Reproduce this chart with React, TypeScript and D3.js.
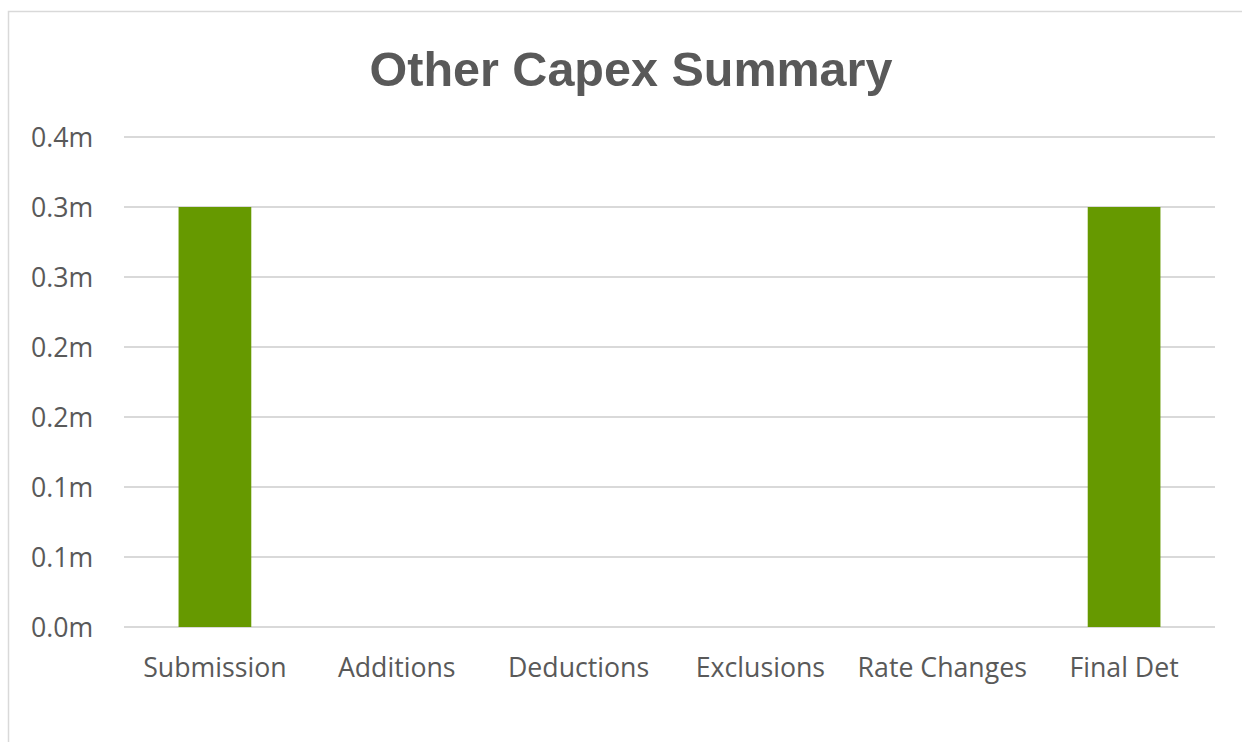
import React from "react";
import * as d3 from "d3";

const categories = ["Submission", "Additions", "Deductions", "Exclusions", "Rate Changes", "Final Det"];
const values = [0.3, 0, 0, 0, 0, 0.3];
const yTicks = [0, 0.05, 0.1, 0.15, 0.2, 0.25, 0.3, 0.35];
const title = "Other Capex Summary";

export default function App() {
  const W = 1242, H = 742;
  const left = 124, right = 1215, top = 137, bottom = 627;
  const x = d3.scaleBand<string>().domain(categories).range([left, right]).padding(0);
  const y = d3.scaleLinear().domain([0, 0.35]).range([bottom, top]);
  const band = x.bandwidth();
  const barW = band / 2.5;
  const cx = (c: string) => (x(c) as number) + band / 2;
  const fmt = (v: number) => (Math.round(v * 10 + 1e-9) / 10).toFixed(1) + "m";
  return (
    <svg width={W} height={H} style={{ position: "absolute", left: 0, top: 0 }}>
      <rect x={0} y={0} width={W} height={H} fill="#fff" />
      <rect x={8.5} y={11.5} width={W + 20} height={H + 20} fill="#fff" stroke="#d9d9d9" strokeWidth={1.5} />
      <text x={631} y={86} textAnchor="middle" fontFamily="Liberation Sans, Arial, sans-serif" fontWeight="bold" fontSize={48.5} fill="#595959">{title}</text>
      {yTicks.map((t, i) => (
        <g key={i}>
          <line x1={left} x2={right} y1={y(t)} y2={y(t)} stroke="#d9d9d9" strokeWidth={2} />
          <text x={31} y={y(t) + 10} fontFamily="Open Sans, sans-serif" fontSize={26.7} fill="#595959">{fmt(t)}</text>
        </g>
      ))}
      {categories.map((c, i) => (
        <g key={c}>
          {values[i] > 0 && (
            <rect x={cx(c) - barW / 2} y={y(values[i])} width={barW} height={y(0) - y(values[i])} fill="#669900" />
          )}
          <text x={cx(c)} y={677} textAnchor="middle" fontFamily="Open Sans, sans-serif" fontSize={26.7} fill="#595959">{c}</text>
        </g>
      ))}
    </svg>
  );
}
